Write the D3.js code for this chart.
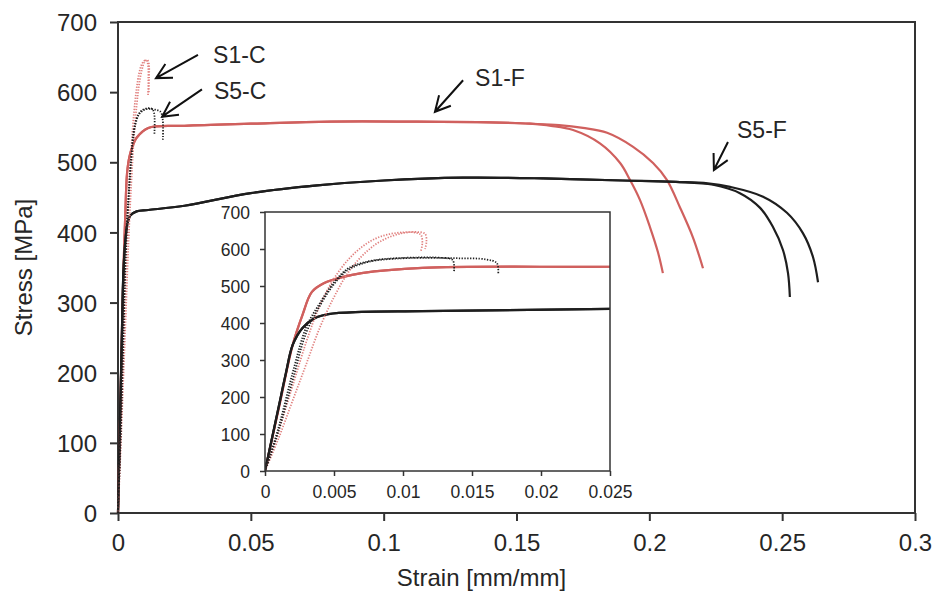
<!DOCTYPE html>
<html>
<head>
<meta charset="utf-8">
<script src="https://cdn.jsdelivr.net/npm/d3@7/dist/d3.min.js"></script>
<style>
    body { margin: 0; background: #fff; }
    text { font-family: Arial, "Liberation Sans", sans-serif; fill: #262626; }
</style>
</head>
<body>
<div id="chart"></div>
<script>

// strain [mm/mm], stress [MPa]

// S1-F (full size, red solid): common part + two fracture tails
var s1fBase = [[0, 0], [0.001, 170], [0.002, 340], [0.0027, 420], [0.0034, 484], [0.0043, 508],
    [0.0056, 524], [0.007, 535], [0.0114, 549], [0.025, 552], [0.05, 555], [0.08, 558],
    [0.11, 558], [0.14, 557], [0.155, 555]];
var s1fTailA = [[0.163, 552], [0.1713, 546], [0.1814, 527], [0.189, 499], [0.1927, 475],
    [0.1965, 446], [0.2002, 408], [0.2033, 371], [0.2051, 342]];
var s1fTailB = [[0.166, 553], [0.175, 549], [0.1841, 542], [0.1939, 522], [0.2014, 499],
    [0.2066, 475], [0.2115, 436], [0.2164, 393], [0.2202, 349]];

// S5-F (full size, black solid)
var s5fBase = [[0, 0], [0.001, 175], [0.0015, 262], [0.002, 340], [0.0027, 386], [0.0036, 413],
    [0.0046, 424], [0.007, 430], [0.0114, 432], [0.025, 438], [0.05, 456], [0.075, 467],
    [0.1, 474], [0.13, 478], [0.16, 477], [0.19, 474], [0.21, 472]];
var s5fTailA = [[0.224, 468], [0.2341, 456], [0.2417, 435], [0.2465, 408], [0.2503, 375],
    [0.2522, 342], [0.2529, 308]];
var s5fTailB = [[0.222, 470], [0.2304, 465], [0.2428, 451], [0.2518, 428], [0.2578, 399],
    [0.2616, 365], [0.2635, 329]];

// S1-C (coupon, red dotted)
var s1cA = [[0, 0], [0.001, 110], [0.002, 230], [0.003, 350], [0.004, 450], [0.005, 520],
    [0.006, 570], [0.007, 605], [0.008, 628], [0.009, 640], [0.01, 645], [0.0108, 645],
    [0.0113, 638], [0.0114, 615], [0.0113, 595]];
var s1cB = [[0, 0], [0.001, 90], [0.002, 190], [0.003, 290], [0.004, 390], [0.005, 470],
    [0.006, 535], [0.007, 580], [0.008, 612], [0.009, 632], [0.01, 643], [0.011, 646],
    [0.0116, 641], [0.0117, 620], [0.0116, 600]];

// S5-C (coupon, black dotted)
var s5cA = [[0, 0], [0.001, 120], [0.002, 265], [0.003, 390], [0.004, 455], [0.005, 510],
    [0.006, 547], [0.007, 562], [0.008, 570], [0.009, 574], [0.011, 577], [0.0128, 576],
    [0.0136, 570], [0.0137, 540]];
var s5cB = [[0, 0], [0.001, 110], [0.002, 245], [0.003, 375], [0.004, 448], [0.005, 505],
    [0.006, 543], [0.007, 560], [0.008, 569], [0.01, 575], [0.012, 576], [0.014, 575],
    [0.016, 572], [0.0168, 562], [0.0169, 532]];

var mainXTicks = [0, 0.05, 0.1, 0.15, 0.2, 0.25, 0.3];
var mainYTicks = [0, 100, 200, 300, 400, 500, 600, 700];
var insetXTicks = [0, 0.005, 0.01, 0.015, 0.02, 0.025];
var insetYTicks = [0, 100, 200, 300, 400, 500, 600, 700];

// labels: text anchor, arrow tail, arrow tip (strain, stress)
var labelNames = ["S1-C", "S5-C", "S1-F", "S5-F"];
var labelPos = [[0.0358, 641], [0.0361, 590], [0.1344, 609], [0.233, 535]];
var arrowFrom = [[0.0301, 653], [0.0316, 604], [0.1299, 617], [0.2296, 529]];
var arrowTo = [[0.0143, 620], [0.0166, 565], [0.1193, 572], [0.2243, 489]];


var RED = "#d0605e", RED_DOT = "#e07f7d", BLACK = "#1e1e1e";

var curves = [
    {pts: s1fBase.concat(s1fTailA), color: RED, dotted: false},
    {pts: s1fBase.concat(s1fTailB), color: RED, dotted: false},
    {pts: s5fBase.concat(s5fTailA), color: BLACK, dotted: false},
    {pts: s5fBase.concat(s5fTailB), color: BLACK, dotted: false},
    {pts: s1cA, color: RED_DOT, dotted: true},
    {pts: s1cB, color: RED_DOT, dotted: true},
    {pts: s5cA, color: BLACK, dotted: true},
    {pts: s5cB, color: BLACK, dotted: true}
];


StressStrainVis = function(_parentElement) {
    this.parentElement = _parentElement;
    this.width = 934;
    this.height = 592;
    this.initVis();
};

StressStrainVis.prototype.initVis = function() {
    this.svg = this.parentElement.append("svg")
        .attr("width", this.width)
        .attr("height", this.height);

    // main plot area
    this.x = d3.scaleLinear().domain([0, 0.3]).range([118, 915]);
    this.y = d3.scaleLinear().domain([0, 700]).range([513, 22]);

    // inset plot area
    this.ix = d3.scaleLinear().domain([0, 0.025]).range([265, 610]);
    this.iy = d3.scaleLinear().domain([0, 700]).range([471, 212]);

    this.updateVis();
};

StressStrainVis.prototype.drawCurves = function(g, x, y, w) {
    var line = d3.line()
        .x(function(d) { return x(d[0]); })
        .y(function(d) { return y(d[1]); })
        .curve(d3.curveCatmullRom.alpha(0.5));

    g.selectAll("path.curve")
        .data(curves)
        .enter().append("path")
        .attr("class", "curve")
        .attr("d", function(d) { return line(d.pts); })
        .attr("fill", "none")
        .attr("stroke", function(d) { return d.color; })
        .attr("stroke-width", function(d) { return d.dotted ? w * 0.8 : w; })
        .attr("stroke-dasharray", function(d) { return d.dotted ? "1.3,1.5" : null; })
        .attr("stroke-linejoin", "round");
};

StressStrainVis.prototype.updateVis = function() {
    var svg = this.svg;
    var x = this.x, y = this.y, ix = this.ix, iy = this.iy;
    var fmt = function(d) { return d === 0 ? "0" : String(+d.toFixed(4)); };

    // ----- main axes -----
    var xAxis = svg.append("g")
        .attr("transform", "translate(0," + y(0) + ")")
        .call(d3.axisBottom(x).tickValues(mainXTicks).tickSize(8).tickSizeOuter(0).tickFormat(fmt));
    var yAxis = svg.append("g")
        .attr("transform", "translate(" + x(0) + ",0)")
        .call(d3.axisLeft(y).tickValues(mainYTicks).tickSize(8).tickSizeOuter(0).tickFormat(fmt));

    [xAxis, yAxis].forEach(function(a) {
        a.select(".domain").remove();
        a.selectAll("line").attr("stroke", "#333").attr("stroke-width", 2);
        a.selectAll("text").style("font-size", "24px").attr("fill", "#262626");
    });
    xAxis.selectAll("text").attr("dy", null).attr("y", 38);
    yAxis.selectAll("text").attr("x", -21).attr("dy", "0.36em");

    svg.append("rect")
        .attr("x", x(0)).attr("y", y(700))
        .attr("width", x(0.3) - x(0)).attr("height", y(0) - y(700))
        .attr("fill", "none").attr("stroke", "#333").attr("stroke-width", 2);

    svg.append("text")
        .attr("x", (x(0) + x(0.3)) / 2 - 35).attr("y", 586)
        .attr("text-anchor", "middle")
        .style("font-size", "24px")
        .text("Strain [mm/mm]");
    svg.append("text")
        .attr("transform", "translate(32," + (y(0) + y(700)) / 2 + ") rotate(-90)")
        .attr("text-anchor", "middle")
        .style("font-size", "24px")
        .text("Stress [MPa]");

    // main curves
    this.drawCurves(svg.append("g"), x, y, 2.2);

    // ----- annotations -----
    labelNames.forEach(function(name, i) {
        svg.append("text")
            .attr("x", x(labelPos[i][0])).attr("y", y(labelPos[i][1]))
            .style("font-size", "23px")
            .attr("fill", "#111")
            .text(name);

        var x0 = x(arrowFrom[i][0]), y0 = y(arrowFrom[i][1]);
        var x1 = x(arrowTo[i][0]), y1 = y(arrowTo[i][1]);
        var ang = Math.atan2(y0 - y1, x0 - x1);
        var len = 17, spread = Math.PI / 6.5;
        var head = "M" + (x1 + len * Math.cos(ang - spread)) + "," + (y1 + len * Math.sin(ang - spread)) +
            "L" + x1 + "," + y1 +
            "L" + (x1 + len * Math.cos(ang + spread)) + "," + (y1 + len * Math.sin(ang + spread));
        svg.append("path")
            .attr("d", "M" + x0 + "," + y0 + "L" + x1 + "," + y1 + head)
            .attr("fill", "none")
            .attr("stroke", "#111")
            .attr("stroke-width", 2)
            .attr("stroke-linejoin", "miter");
    });

    // ----- inset -----
    var inset = svg.append("g");
    inset.append("rect")
        .attr("x", ix(0)).attr("y", iy(700))
        .attr("width", ix(0.025) - ix(0)).attr("height", iy(0) - iy(700))
        .attr("fill", "#fff");

    svg.append("clipPath").attr("id", "insetClip")
        .append("rect")
        .attr("x", ix(0)).attr("y", iy(700) - 2)
        .attr("width", ix(0.025) - ix(0)).attr("height", iy(0) - iy(700) + 2);

    var ixAxis = inset.append("g")
        .attr("transform", "translate(0," + iy(0) + ")")
        .call(d3.axisBottom(ix).tickValues(insetXTicks).tickSize(5).tickSizeOuter(0).tickFormat(fmt));
    var iyAxis = inset.append("g")
        .attr("transform", "translate(" + ix(0) + ",0)")
        .call(d3.axisLeft(iy).tickValues(insetYTicks).tickSize(5).tickSizeOuter(0).tickFormat(fmt));
    [ixAxis, iyAxis].forEach(function(a) {
        a.select(".domain").remove();
        a.selectAll("line").attr("stroke", "#333").attr("stroke-width", 1.5);
        a.selectAll("text").style("font-size", "17.5px").attr("fill", "#262626");
    });
    ixAxis.selectAll("text").attr("dy", null).attr("y", 27);
    iyAxis.selectAll("text").attr("x", -15).attr("dy", "0.36em");

    this.drawCurves(inset.append("g").attr("clip-path", "url(#insetClip)"), ix, iy, 2.2);

    inset.append("rect")
        .attr("x", ix(0)).attr("y", iy(700))
        .attr("width", ix(0.025) - ix(0)).attr("height", iy(0) - iy(700))
        .attr("fill", "none").attr("stroke", "#333").attr("stroke-width", 1.5);
};

var vis = new StressStrainVis(d3.select("#chart"));

</script>
</body>
</html>
